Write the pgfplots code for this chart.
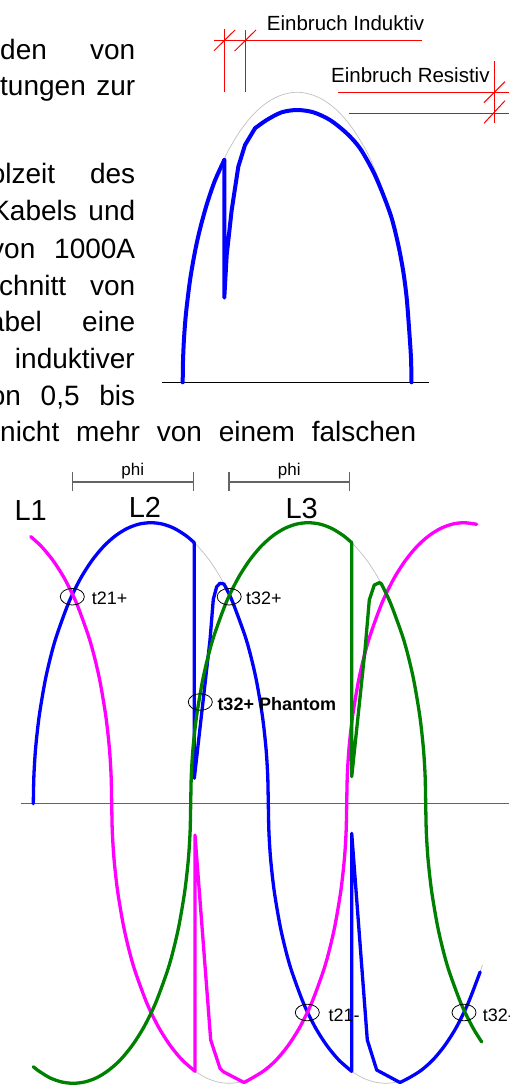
\documentclass[border=0pt]{standalone}
\usepackage{fontspec}
\setmainfont{Liberation Sans}
\usepackage{pgfplots}
\pgfplotsset{compat=1.18}

\definecolor{mag}{RGB}{255,0,255}
\definecolor{grn}{RGB}{0,128,0}
\definecolor{idealgray}{RGB}{192,192,192}
\definecolor{dim}{RGB}{100,100,100}

\newcommand\body{\fontsize{28}{34}\selectfont}
\newcommand\lbl{\fontsize{18}{22}\selectfont}

\pgfplotsset{
  wave/.style={line width=3.3pt, line cap=round, line join=round},
  ideal/.style={idealgray, line width=0.7pt},
  redl/.style={red, line width=1pt},
}

\begin{document}
\begin{tikzpicture}
\begin{axis}[
    width=509pt, height=1086pt, scale only axis,
    xmin=0, xmax=509, ymin=0, ymax=1086,
    y dir=reverse,
    hide axis,
    clip=true,
]
\coordinate (bbSW) at (axis cs:0,1086);
\coordinate (bbNE) at (axis cs:509,0);

% --- upper picture: single half wave ---
\addplot[ideal, smooth] coordinates {
 (182.7,382.3)(183.0,361.3)(184,338.7)(186,313.2)(190,280.4)(195,251.5)(200,229)
 (207,203.7)(215,180.4)(224.3,158.7)(230,147.5)(240,131.1)(250,118.1)(260,108)
 (270,100.6)(280,95.6)(290,92.9)(297.2,92.3)(304.4,92.9)(314.4,95.6)(324.4,100.6)
 (334.4,108)(344.4,118.1)(354.4,131.1)(364.4,147.5)(370.1,158.7)(379.4,180.4)
 (387.4,203.7)(394.4,229)(399.4,251.5)(404.4,280.4)(408.4,313.2)(410.4,338.7)
 (411.4,361.3)(411.7,382.3)};

\addplot[black, line width=1pt] coordinates {(162.3,382.3)(429.3,382.3)};

\addplot[blue, wave, line width=4pt, smooth] coordinates {
 (182.7,382.3)(183.0,361.3)(184,338.7)(186,313.2)(190,280.4)(195,251.5)(200,229)
 (207,203.7)(215,180.4)(224.3,160)};
\addplot[blue, wave, line width=4pt] coordinates {
 (224.3,160)(224.3,297.7)(226.7,255)(231.7,210)(238.3,166.7)(245,145)(255,128.3)};
\addplot[blue, wave, line width=4pt, smooth] coordinates {
 (255,128.3)(266.7,120)(281.7,112.3)(297.3,110)(313.3,112.3)(330,120)(346.7,133.3)
 (360,148.3)(373.3,171.7)(383.3,195)(391.7,218.3)(398.3,245)(403.3,271.7)
 (406.7,298.3)(409.3,331.7)(411,358.3)(411.5,382.3)};

% red dimension marks
\addplot[redl] coordinates {(214,40.3)(421.7,40.3)};
\addplot[redl] coordinates {(224.7,29)(224.7,92.3)};
\addplot[redl] coordinates {(245.3,30)(245.3,92.3)};
\addplot[redl] coordinates {(214,50.7)(235,30)};
\addplot[redl] coordinates {(234.7,51)(256,30)};
\addplot[redl] coordinates {(338,92.3)(509,92.3)};
\addplot[redl] coordinates {(348.7,113.3)(509,113.3)};
\addplot[redl] coordinates {(494,61)(494,123.3)};
\addplot[redl] coordinates {(484,102.7)(505,81.7)};
\addplot[redl] coordinates {(484,123.3)(505,100.7)};

\node[anchor=base west, inner sep=0pt, font=\fontsize{20.5}{24}\selectfont] at (axis cs:266.7,30.7) {Einbruch Induktiv};
\node[anchor=base west, inner sep=0pt, font=\fontsize{20.5}{24}\selectfont] at (axis cs:331,82.3) {Einbruch Resistiv};

% --- body text beside the picture ---
\node[anchor=base west, inner sep=0pt, font=\body] at (axis cs:0,60) {\hbox to 135pt{den\hfill von}};
\node[anchor=base west, inner sep=0pt, font=\body] at (axis cs:0,96) {\hbox to 135pt{tungen\hfill zur}};
\node[anchor=base west, inner sep=0pt, font=\body] at (axis cs:-10.4,183.3) {\hbox to 145.4pt{olzeit\hfill des}};
\node[anchor=base west, inner sep=0pt, font=\body] at (axis cs:-8.9,220.7) {\hbox to 143.9pt{Kabels\hfill und}};
\node[anchor=base west, inner sep=0pt, font=\body] at (axis cs:-10,258.3) {\hbox to 145pt{von\hfill 1000A}};
\node[anchor=base west, inner sep=0pt, font=\body] at (axis cs:-1,295) {\hbox to 136pt{chnitt\hfill von}};
\node[anchor=base west, inner sep=0pt, font=\body] at (axis cs:-11.2,331.7) {\hbox to 146.2pt{abel\hfill eine}};
\node[anchor=base east, inner sep=0pt, font=\body] at (axis cs:135,368.3) {induktiver};
\node[anchor=base west, inner sep=0pt, font=\body] at (axis cs:-10.4,405) {\hbox to 145.4pt{on\hfill 0,5\hfill bis}};
\node[anchor=base west, inner sep=0pt, font=\body] at (axis cs:0,441.7) {\hbox to 416pt{nicht\hfill mehr\hfill von\hfill einem\hfill falschen}};

% --- lower picture: three phases ---
\addplot[dim, line width=1.3pt] coordinates {(21,803.7)(509,803.7)};

\addplot[dim, line width=1.5pt] coordinates {(72.7,482)(193.3,482)};
\addplot[dim, line width=1.5pt] coordinates {(72.7,472.3)(72.7,491)};
\addplot[dim, line width=1.5pt] coordinates {(193.3,472.3)(193.3,491)};
\addplot[dim, line width=1.5pt] coordinates {(229,482)(349.7,482)};
\addplot[dim, line width=1.5pt] coordinates {(229,472.3)(229,491)};
\addplot[dim, line width=1.5pt] coordinates {(349.7,472.3)(349.7,491)};

% ideal curve where the distorted one leaves it
\addplot[ideal, smooth] coordinates {(194.3,542.7)(197.8,546.2)(209.55,560.4)(221.3,578.9)(233.05,603.0)};
\addplot[ideal, smooth] coordinates {(351.7,542.7)(355.2,546.2)(366.95,560.4)(378.7,578.9)(390.45,603.0)};
\addplot[ideal, smooth] coordinates {(195,1071.2)(205.7,1077.7)(217.45,1081.9)(229.2,1083.3)(240.95,1081.9)(252.7,1077.7)(264.45,1070.4)};
\addplot[ideal, smooth] coordinates {(351.7,1071.3)(362.3,1077.7)(374.05,1081.9)(385.8,1083.3)(397.55,1081.9)(409.3,1077.7)};
\addplot[ideal] coordinates {(480.1,972)(482.5,965)};

% L2 (blue)
\addplot[blue, wave, smooth] coordinates {
 (33.3,803.7)(33.9,775.6)(35.65,747.8)(39.2,716.0)(45.05,681.2)(50.9,655.7)(56.8,635.1)
 (68.55,603.0)(80.3,578.9)(92.05,560.4)(103.8,546.2)(115.55,535.7)(127.3,528.4)
 (139.05,524.1)(150.8,522.7)(162.55,524.1)(174.3,528.4)(186.05,535.7)(194.3,542.7)};
\addplot[blue, wave] coordinates {
 (194.3,542.7)(194.3,778.3)(210,640)(213.3,599.3)(216.7,586.7)(220,583.3)(224,584)(228,591.8)};
\addplot[blue, wave, smooth] coordinates {
 (228,591.8)(233.05,603.0)(244.8,635.1)(250.7,655.7)(256.55,681.2)(262.4,716.0)
 (265.95,747.8)(267.7,775.6)(268.3,803.7)(268.9,831.6)(270.65,859.3)(274.2,891.0)
 (280.05,925.6)(285.9,951.0)(291.8,971.5)(303.55,1003.4)(315.3,1027.4)(327.05,1045.8)
 (338.8,1060.0)(351.7,1071.3)};
\addplot[blue, wave] coordinates {
 (351.7,1071.3)(351.7,833.3)(367.3,1040)(376.7,1070)(400,1082.5)};
\addplot[blue, wave, smooth] coordinates {
 (400,1082.5)(409.3,1077.7)(421.05,1070.4)(432.8,1060.0)(444.55,1045.8)(456.3,1027.4)
 (468.05,1003.4)(480.1,972)};

% L1 (magenta)
\addplot[mag, wave, smooth] coordinates {
 (30.7,536.6)(41.2,546.2)(52.95,560.4)(64.7,578.9)(76.45,603.0)(88.2,635.1)(94.1,655.7)
 (99.95,681.2)(105.8,716.0)(109.35,747.8)(111.1,775.6)(111.7,803.7)(112.3,831.6)
 (114.05,859.3)(117.6,891.0)(123.45,925.6)(129.3,951.0)(135.2,971.5)(146.95,1003.4)
 (158.7,1027.4)(170.45,1045.8)(182.2,1060.0)(195,1071.2)};
\addplot[mag, wave] coordinates {
 (195,1071.2)(195,835)(210.7,1040)(220,1068.3)(223.3,1071.7)(244,1082.5)};
\addplot[mag, wave, smooth] coordinates {
 (244,1082.5)(252.7,1077.7)(264.45,1070.4)(276.2,1060.0)(287.95,1045.8)(299.7,1027.4)
 (311.45,1003.4)(323.2,971.5)(329.1,951.0)(334.95,925.6)(340.8,891.0)(344.35,859.3)
 (346.1,831.6)(346.7,803.7)(347.3,775.6)(349.05,747.8)(352.6,716.0)(358.45,681.2)
 (364.3,655.7)(370.2,635.1)(381.95,603.0)(393.7,578.9)(405.45,560.4)(417.2,546.2)
 (428.95,535.7)(440.7,528.4)(452.45,524.1)(464.2,522.7)(476.7,524.3)};

% L3 (green)
\addplot[grn, wave, smooth] coordinates {
 (33.3,1066.7)(37.95,1070.4)(49.7,1077.7)(61.45,1081.9)(73.2,1083.3)(84.95,1081.9)
 (96.7,1077.7)(108.45,1070.4)(120.2,1060.0)(131.95,1045.8)(143.7,1027.4)(155.45,1003.4)
 (167.2,971.5)(173.1,951.0)(178.95,925.6)(184.8,891.0)(188.35,859.3)(190.1,831.6)
 (190.7,803.7)(191.3,775.6)(193.05,747.8)(196.6,716.0)(202.45,681.2)(208.3,655.7)
 (214.2,635.1)(225.95,603.0)(237.7,578.9)(249.45,560.4)(261.2,546.2)(272.95,535.7)
 (284.7,528.4)(296.45,524.1)(308.2,522.7)(319.95,524.1)(331.7,528.4)(343.45,535.7)
 (351.7,542.7)};
\addplot[grn, wave] coordinates {
 (351.7,542.7)(351.7,776.7)(365,650)(369.3,600)(374.3,585)(379.3,582.7)(381.2,583.5)};
\addplot[grn, wave, smooth] coordinates {
 (381.2,583.5)(390.45,603.0)(402.2,635.1)(408.1,655.7)(413.95,681.2)(419.8,716.0)
 (423.35,747.8)(425.1,775.6)(425.7,803.7)(426.3,831.6)(428.05,859.3)(431.6,891.0)
 (437.45,925.6)(443.3,951.0)(449.2,971.5)(460.95,1003.4)(472.7,1027.4)(481.7,1041.9)};

% crossing markers
\addplot[only marks, mark=o, mark size=8.3pt,
    mark options={xscale=1.45, line width=0.8pt, black}] coordinates {
 (72.3,596.7)(229.2,596.7)(200.3,702)(307.3,1012.5)(464,1012.5)};

\node[anchor=base, inner sep=0pt, font=\fontsize{17}{20}\selectfont] at (axis cs:132.7,475) {phi};
\node[anchor=base, inner sep=0pt, font=\fontsize{17}{20}\selectfont] at (axis cs:289.3,475) {phi};
\node[anchor=base, inner sep=0pt, font=\fontsize{29}{34}\selectfont] at (axis cs:30.7,520) {L1};
\node[anchor=base, inner sep=0pt, font=\fontsize{29}{34}\selectfont] at (axis cs:145,517.3) {L2};
\node[anchor=base, inner sep=0pt, font=\fontsize{29}{34}\selectfont] at (axis cs:301.7,518.3) {L3};
\node[anchor=base west, inner sep=0pt, font=\lbl] at (axis cs:91.7,604) {t21+};
\node[anchor=base west, inner sep=0pt, font=\lbl] at (axis cs:246,604) {t32+};
\node[anchor=base west, inner sep=0pt, font=\lbl\bfseries] at (axis cs:217.3,710) {t32+ Phantom};
\node[anchor=base west, inner sep=0pt, font=\lbl] at (axis cs:328.3,1021.7) {t21-};
\node[anchor=base west, inner sep=0pt, font=\lbl] at (axis cs:482.7,1021.7) {t32-};

\end{axis}
\pgfresetboundingbox
\useasboundingbox (bbSW) rectangle (bbNE);
\end{tikzpicture}
\end{document}
